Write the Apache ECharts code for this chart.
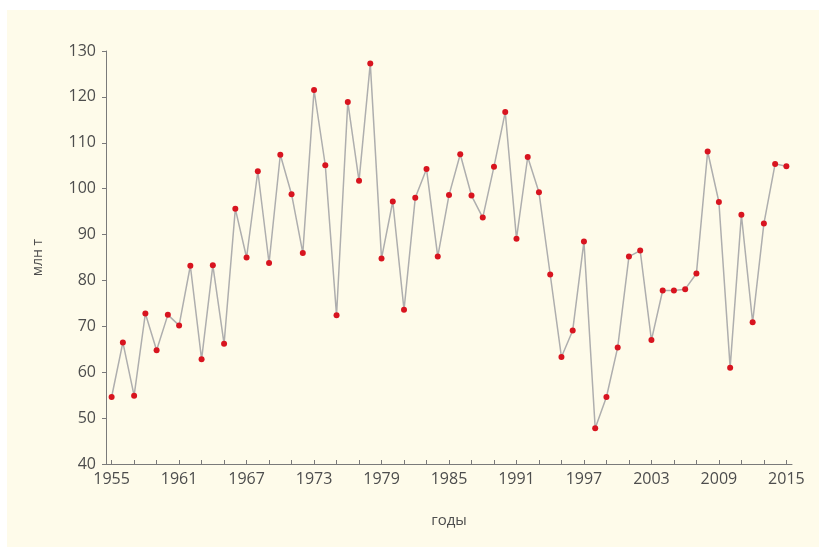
<!DOCTYPE html>
<html>
<head>
<meta charset="utf-8">
<script src="https://cdn.jsdelivr.net/npm/echarts@6/dist/echarts.min.js"></script>
<style>
  html, body { margin: 0; padding: 0; background: #ffffff; }
  #panel {
    position: absolute;
    left: 7px;
    top: 10px;
    width: 812px;
    height: 537px;
    background: #fefbea;
  }
  #chart-box {
    position: absolute;
    left: 0;
    top: 0;
    width: 819px;
    height: 547px;
  }
</style>
</head>
<body>
<div id="panel"></div>
<div id="chart-box"></div>
<script>
// годы (1955-2015)
var years = []
for (var y = 1955; y <= 2015; y++) years.push(y)
// млн т
var values = [
  54.6, 66.5, 54.9, 72.8, 64.8, 72.5, 70.2, 83.2, 62.8, 83.3,
  66.2, 95.6, 85.0, 103.8, 83.8, 107.4, 98.8, 86.0, 121.5, 105.1,
  72.4, 118.9, 101.7, 127.3, 84.8, 97.2, 73.6, 98.0, 104.3, 85.2,
  98.6, 107.5, 98.5, 93.7, 104.8, 116.7, 89.1, 106.9, 99.2, 81.3,
  63.3, 69.1, 88.5, 47.8, 54.6, 65.4, 85.2, 86.5, 67.0, 77.8,
  77.8, 78.1, 81.5, 108.1, 97.1, 61.0, 94.3, 70.9, 92.4, 105.4,
  104.9
]
var xTickYears = []
for (var t = 1955; t <= 2015; t += 2) xTickYears.push(t)
var xLabelYears = [1955, 1961, 1967, 1973, 1979, 1985, 1991, 1997, 2003, 2009, 2015]

var myChart = echarts.init(document.getElementById('chart-box'))
var textColor = '#4d4d4d'
var axisColor = '#7a7a7a'
var option = {
  animation: false,
  backgroundColor: 'transparent',
  textStyle: { fontFamily: 'Open Sans' },
  grid: {
    left: 106,
    right: 27,
    top: 51,
    bottom: 83,
    containLabel: false
  },
  xAxis: {
    type: 'value',
    min: 1954.5,
    max: 2015.5,
    name: 'годы',
    nameLocation: 'middle',
    nameGap: 49,
    nameTextStyle: { color: textColor, fontSize: 15, fontFamily: 'Open Sans' },
    splitLine: { show: false },
    axisLine: { show: true, lineStyle: { color: axisColor, width: 1 } },
    axisTick: {
      show: true,
      inside: true,
      length: 4,
      customValues: xTickYears,
      lineStyle: { color: axisColor }
    },
    axisLabel: {
      customValues: xLabelYears,
      color: textColor,
      fontSize: 16,
      margin: 7,
      formatter: function (v) { return String(v) }
    }
  },
  yAxis: {
    type: 'value',
    min: 40,
    max: 130,
    interval: 10,
    name: 'млн т',
    nameLocation: 'middle',
    nameGap: 61,
    nameRotate: 90,
    nameTextStyle: { color: textColor, fontSize: 14, fontFamily: 'Open Sans' },
    splitLine: { show: false },
    axisLine: { show: true, lineStyle: { color: axisColor, width: 1 } },
    axisTick: { show: true, length: 4, lineStyle: { color: axisColor } },
    axisLabel: { color: textColor, fontSize: 16, margin: 10 }
  },
  series: [
    {
      type: 'line',
      silent: true,
      symbol: 'circle',
      symbolSize: 6,
      showAllSymbol: true,
      lineStyle: { color: '#aeaeae', width: 1.5 },
      itemStyle: { color: '#d8141f' },
      data: years.map(function (yr, i) { return [yr, values[i]] })
    }
  ]
}
option && myChart.setOption(option)
</script>
</body>
</html>
